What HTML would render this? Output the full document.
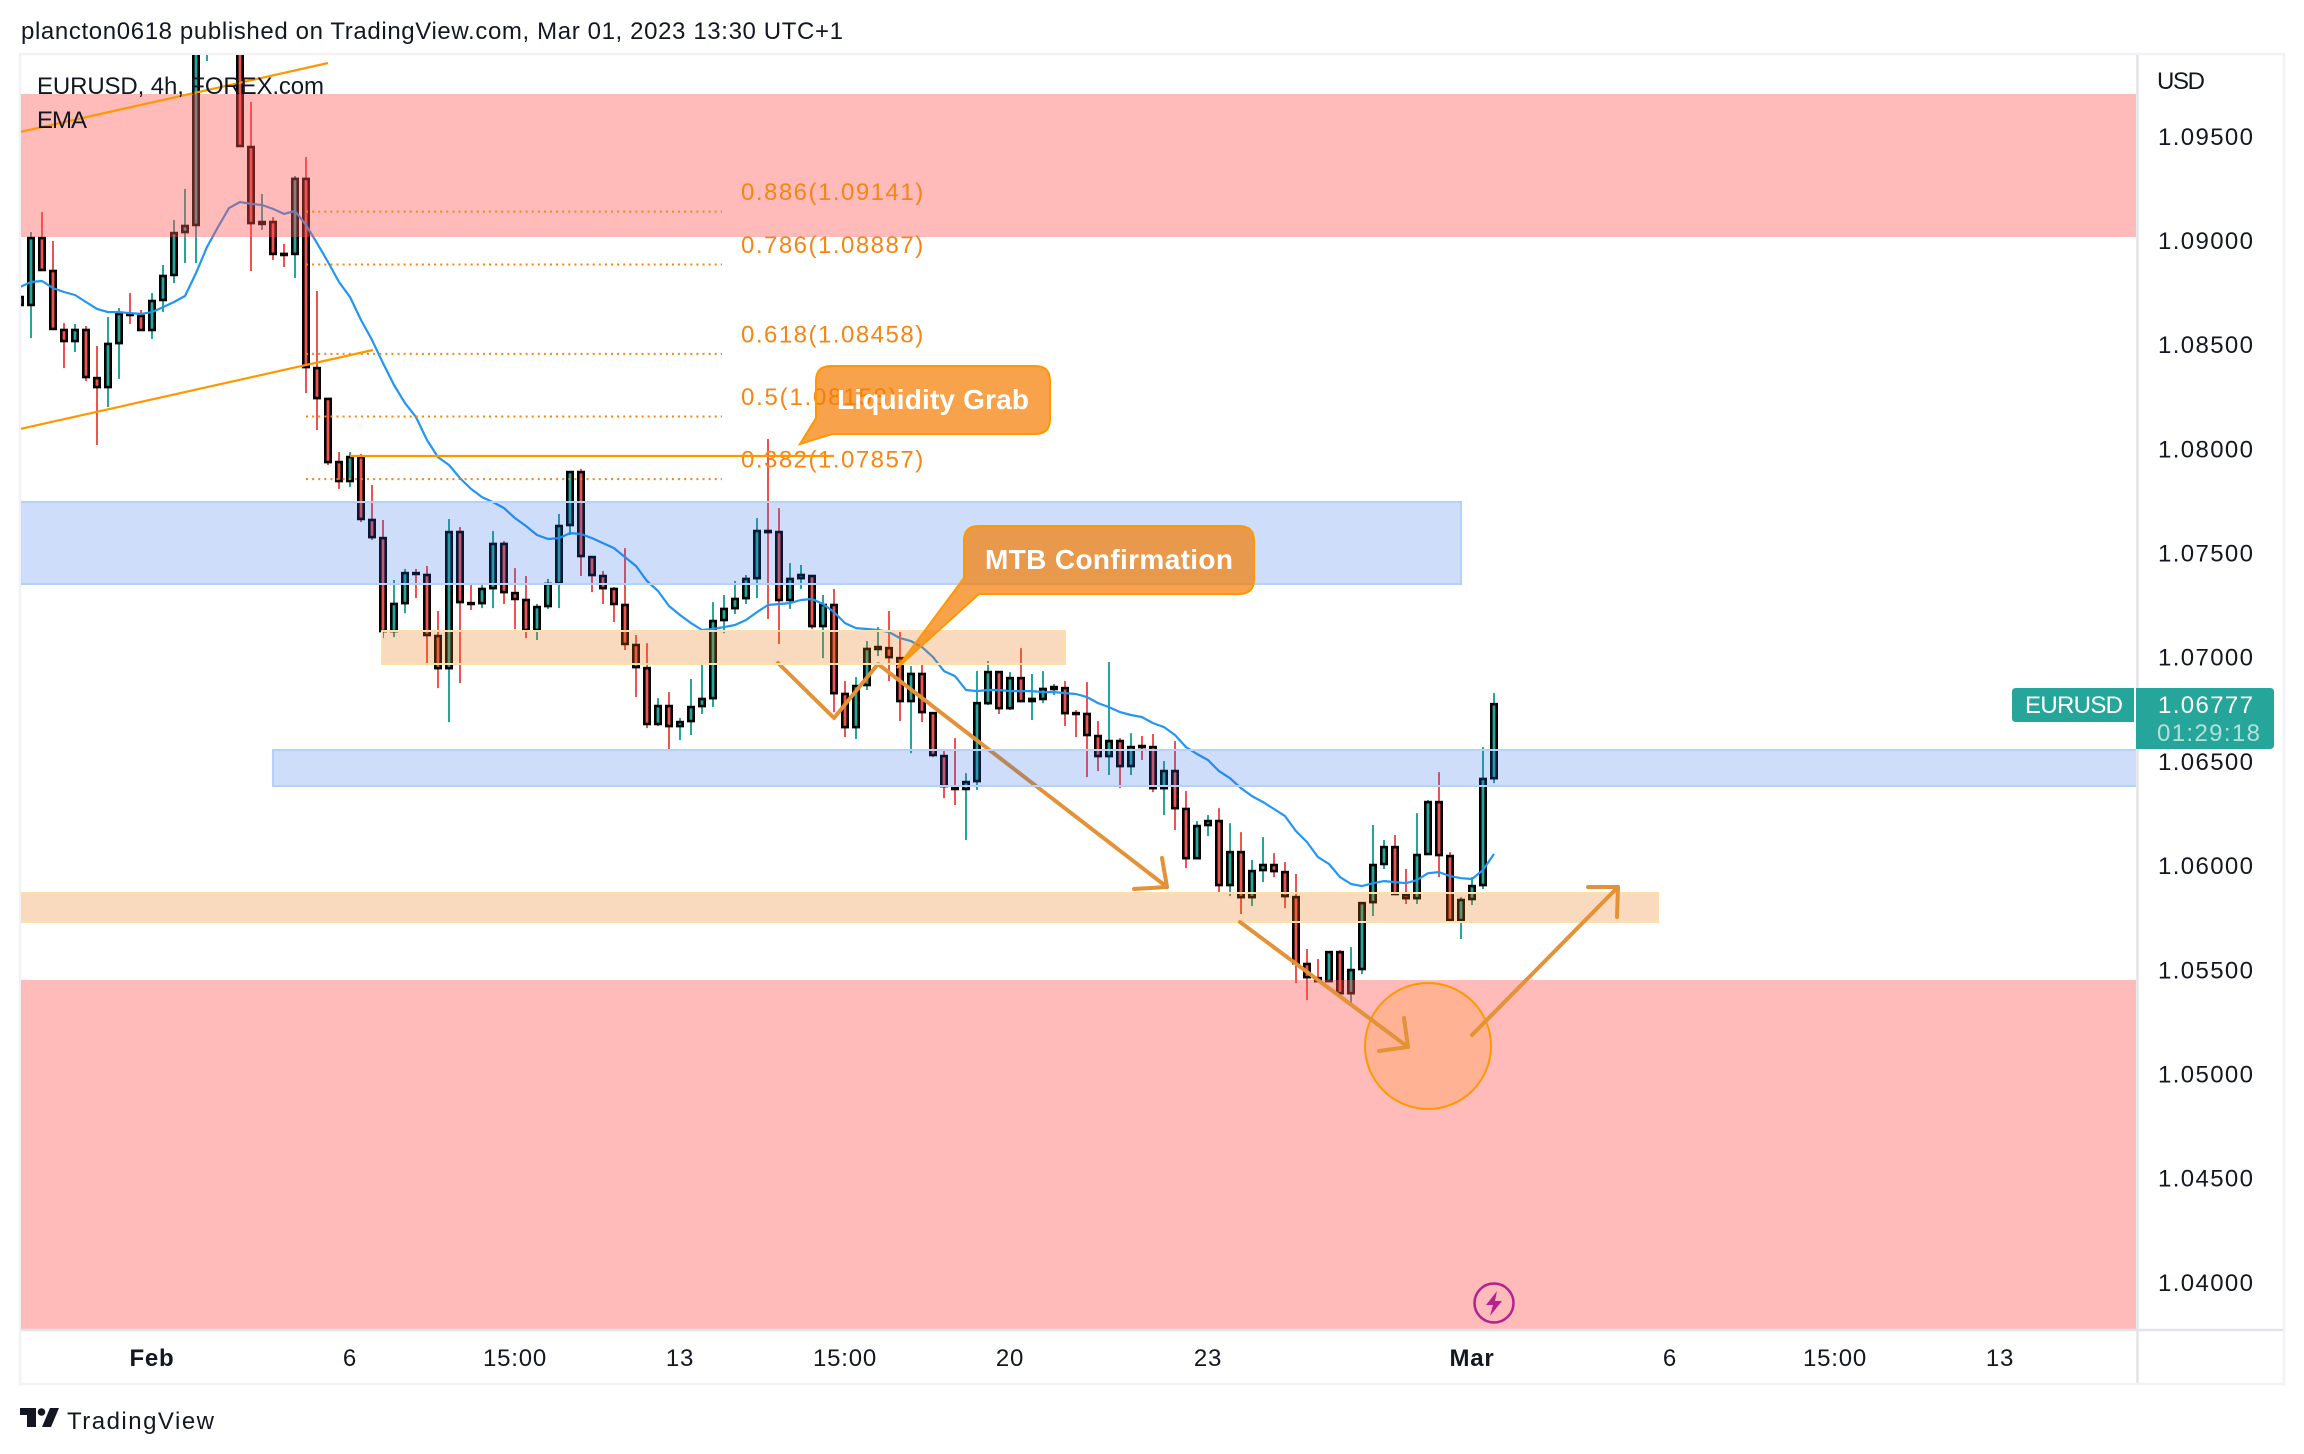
<!DOCTYPE html>
<html lang="en">
<head>
<meta charset="utf-8">
<title>EURUSD 4h chart</title>
<style>
html,body{margin:0;padding:0;background:#fff;width:2304px;height:1454px;overflow:hidden}
svg{display:block}
text{font-family:"Liberation Sans",sans-serif;font-size:24px;fill:#131722}
</style>
</head>
<body>
<svg id="root" width="2304" height="1454" viewBox="0 0 2304 1454">
<defs><clipPath id="plot"><rect x="21" y="55" width="2115" height="1274"/></clipPath></defs>

<text x="21" y="39" textLength="822" lengthAdjust="spacing">plancton0618 published on TradingView.com, Mar 01, 2023 13:30 UTC+1</text>

<rect x="20" y="54" width="2264" height="1330" fill="#fff" stroke="#f1f1f6" stroke-width="2.5"/>

<g clip-path="url(#plot)">
  <g id="candles"></g>
  <polyline id="ema" fill="none" stroke="#2196f3" stroke-width="2.2" stroke-linejoin="round"/>
  <g fill="none" stroke="#e59135" stroke-width="4" stroke-linecap="round" stroke-linejoin="round">
    <polyline points="778,663 834,718 878,664 1167,887"/>
    <polyline points="1162,858 1167,887 1134,889"/>
  </g>
  <rect x="10" y="94" width="2126" height="143" fill="rgba(255,82,82,.4)"/>
  <rect x="10" y="980" width="2126" height="360" fill="rgba(255,82,82,.4)"/>
  <rect x="10" y="502" width="1451" height="82" fill="rgba(33,100,230,.22)" stroke="#b3d1fb" stroke-width="2"/>
  <rect x="273" y="750" width="1880" height="36" fill="rgba(33,100,230,.22)" stroke="#b3d1fb" stroke-width="2"/>
  <rect x="382" y="631" width="683" height="33" fill="rgba(235,120,20,.27)" stroke="#fde0a8" stroke-width="2"/>
  <rect x="10" y="893" width="1648" height="29" fill="rgba(235,120,20,.27)" stroke="#fde0a8" stroke-width="2"/>

  <g id="fib"></g>

  <line x1="20" y1="132" x2="328" y2="63" stroke="#ff9800" stroke-width="2.2"/>
  <line x1="20" y1="429" x2="373" y2="350" stroke="#ff9800" stroke-width="2.2"/>
  <line x1="350" y1="456" x2="834" y2="456" stroke="#ff9800" stroke-width="2.2"/>

  <circle cx="1428" cy="1046" r="63" fill="rgba(255,152,0,.2)" stroke="#ff9800" stroke-width="2"/>
  <g fill="none" stroke="#e59135" stroke-width="4" stroke-linecap="round" stroke-linejoin="round">
    <line x1="1240" y1="922" x2="1408" y2="1047"/>
    <polyline points="1404,1018 1408,1047 1379,1051"/>
  </g>
  <g fill="none" stroke="#e59135" stroke-width="4" stroke-linecap="round" stroke-linejoin="round">
    <line x1="1472" y1="1035" x2="1618" y2="887"/>
    <polyline points="1588,887 1618,887 1617,917"/>
  </g>

  <path d="M831 366H1035Q1050 366 1050 381V419Q1050 434 1035 434H832L800 444L816 418V381Q816 366 831 366Z" fill="rgba(245,124,0,.7)" stroke="#ff9800" stroke-width="2"/>
  <text x="837" y="409" textLength="192" lengthAdjust="spacing" style="font-size:28px;fill:#fff;font-weight:700">Liquidity Grab</text>
  <path d="M979 526H1239Q1254 526 1254 541V579Q1254 594 1239 594H979L897 668L964 578V541Q964 526 979 526Z" fill="rgba(245,124,0,.7)" stroke="#ff9800" stroke-width="2"/>
  <text x="985" y="569" textLength="248" lengthAdjust="spacing" style="font-size:28px;fill:#fff;font-weight:700">MTB Confirmation</text>

  <g>
    <circle cx="1494" cy="1303" r="19.5" fill="none" stroke="#b5218f" stroke-width="2.5"/>
    <path d="M1497 1291L1486 1305H1493L1490 1316L1502 1301H1495Z" fill="#b5218f"/>
  </g>
</g>

<text x="37" y="94" textLength="287" lengthAdjust="spacing">EURUSD, 4h, FOREX.com</text>
<text x="37" y="128" textLength="50" lengthAdjust="spacing">EMA</text>

<line x1="2137.5" y1="55" x2="2137.5" y2="1383" stroke="#e2e3e8" stroke-width="2.5"/>
<line x1="21" y1="1330" x2="2283" y2="1330" stroke="#e2e3e8" stroke-width="2.5"/>

<g id="priceAxis"></g>
<g id="timeAxis"></g>
<text x="2157" y="89" textLength="48" lengthAdjust="spacing">USD</text>

<path d="M2016 688H2134V722H2016Q2012 722 2012 718V692Q2012 688 2016 688Z" fill="#26a69a"/>
<text x="2074" y="713" text-anchor="middle" textLength="98" lengthAdjust="spacing" style="fill:#fff">EURUSD</text>
<path d="M2136 688H2270Q2274 688 2274 692V745Q2274 749 2270 749H2136Z" fill="#26a69a"/>
<text x="2158" y="713" textLength="95" lengthAdjust="spacing" style="fill:#fff">1.06777</text>
<text x="2157" y="741" textLength="103" lengthAdjust="spacing" style="fill:#fff;fill-opacity:.65">01:29:18</text>

<g>
  <path d="M20 1408H36V1427H27V1415H20Z" fill="#131722"/>
  <circle cx="41.5" cy="1412" r="3.8" fill="#131722"/>
  <path d="M50 1408H59L51 1427H42Z" fill="#131722"/>
  <text x="67" y="1429" textLength="147" lengthAdjust="spacing">TradingView</text>
</g>

<script>
const opens=[1.08731,1.08693,1.09014,1.08856,1.08573,1.08520,1.08573,1.08342,1.08299,1.08510,1.08650,1.08640,1.08573,1.08717,1.08837,1.09043,1.09077,1.09941,1.10013,1.10037,1.09965,1.09451,1.09082,1.09091,1.08938,1.08938,1.09298,1.08390,1.08242,1.07939,1.07848,1.07963,1.07661,1.07574,1.07128,1.07262,1.07406,1.07397,1.07104,1.06950,1.07603,1.07262,1.07262,1.07334,1.07546,1.07310,1.07277,1.07133,1.07248,1.07358,1.07637,1.07891,1.07483,1.07392,1.07330,1.07253,1.07061,1.06950,1.06682,1.06768,1.06672,1.06696,1.06768,1.06806,1.07181,1.07238,1.07286,1.07382,1.07608,1.07603,1.07277,1.07382,1.07392,1.07152,1.07253,1.06826,1.06667,1.06869,1.07042,1.07046,1.06998,1.06792,1.06922,1.06734,1.06528,1.06379,1.06370,1.06408,1.06782,1.06931,1.06758,1.06902,1.06792,1.06802,1.06850,1.06854,1.06734,1.06730,1.06624,1.06528,1.06600,1.06480,1.06576,1.06571,1.06374,1.06456,1.06274,1.06038,1.06197,1.06216,1.05909,1.06067,1.05851,1.05981,1.06005,1.05971,1.05851,1.05530,1.05462,1.05448,1.05587,1.05390,1.05506,1.05827,1.06010,1.06091,1.05861,1.05846,1.06058,1.06307,1.06048,1.05741,1.05842,1.05909,1.06422];
const highs=[1.08794,1.09043,1.09139,1.09000,1.08606,1.08602,1.08592,1.08496,1.08635,1.08678,1.08750,1.08669,1.08750,1.08885,1.09101,1.09250,1.09965,1.10109,1.10133,1.10085,1.10013,1.09667,1.09226,1.09115,1.08986,1.09312,1.09403,1.08760,1.08242,1.07987,1.07987,1.07978,1.07829,1.07661,1.07373,1.07426,1.07426,1.07440,1.07224,1.07666,1.07627,1.07349,1.07349,1.07608,1.07560,1.07430,1.07392,1.07258,1.07378,1.07690,1.07891,1.07906,1.07483,1.07416,1.07339,1.07526,1.07109,1.07070,1.06806,1.06835,1.06710,1.06898,1.06965,1.07267,1.07301,1.07368,1.07397,1.07670,1.08050,1.07718,1.07454,1.07445,1.07392,1.07301,1.07330,1.06888,1.06907,1.07080,1.07147,1.07224,1.07128,1.06960,1.06974,1.06734,1.06552,1.06614,1.06446,1.06936,1.06984,1.06931,1.06931,1.07046,1.06922,1.06936,1.06874,1.06888,1.06749,1.06883,1.06696,1.06979,1.06614,1.06638,1.06624,1.06634,1.06504,1.06600,1.06360,1.06216,1.06245,1.06278,1.06206,1.06163,1.06029,1.06139,1.06062,1.06019,1.05962,1.05602,1.05554,1.05587,1.05597,1.05611,1.05827,1.06197,1.06125,1.06149,1.05986,1.06254,1.06317,1.06451,1.06067,1.05851,1.05947,1.06571,1.06830];
const lows=[1.08645,1.08534,1.08861,1.08578,1.08390,1.08467,1.08328,1.08021,1.08203,1.08338,1.08602,1.08573,1.08530,1.08659,1.08798,1.08894,1.08894,1.09864,1.09965,1.09893,1.09451,1.08856,1.09053,1.08909,1.08875,1.08822,1.08270,1.08093,1.07925,1.07810,1.07819,1.07651,1.07565,1.07094,1.07099,1.07214,1.07286,1.06974,1.06854,1.06691,1.06878,1.07229,1.07238,1.07238,1.07258,1.07138,1.07094,1.07085,1.07234,1.07238,1.07589,1.07392,1.07315,1.07258,1.07171,1.07037,1.06811,1.06662,1.06672,1.06552,1.06605,1.06629,1.06730,1.06763,1.07118,1.07210,1.07258,1.07286,1.07186,1.07066,1.07234,1.07330,1.07138,1.06998,1.06739,1.06619,1.06610,1.06845,1.07008,1.06888,1.06696,1.06542,1.06691,1.06523,1.06326,1.06293,1.06125,1.06365,1.06773,1.06730,1.06749,1.06787,1.06701,1.06782,1.06821,1.06672,1.06619,1.06427,1.06456,1.06437,1.06374,1.06437,1.06509,1.06355,1.06245,1.06173,1.05990,1.06034,1.06144,1.05870,1.05856,1.05770,1.05808,1.05923,1.05947,1.05798,1.05438,1.05357,1.05448,1.05443,1.05390,1.05342,1.05482,1.05760,1.05986,1.05866,1.05818,1.05818,1.06058,1.05947,1.05741,1.05650,1.05813,1.05890,1.06398];
const closes=[1.08693,1.09014,1.08861,1.08578,1.08520,1.08573,1.08347,1.08299,1.08506,1.08650,1.08645,1.08573,1.08712,1.08832,1.09038,1.09072,1.09965,1.10061,1.10109,1.09965,1.09456,1.09086,1.09091,1.08938,1.08933,1.09298,1.08395,1.08246,1.07939,1.07848,1.07963,1.07666,1.07579,1.07128,1.07258,1.07406,1.07402,1.07109,1.06950,1.07603,1.07267,1.07258,1.07330,1.07546,1.07315,1.07282,1.07133,1.07243,1.07354,1.07632,1.07891,1.07488,1.07397,1.07334,1.07258,1.07066,1.06955,1.06682,1.06768,1.06672,1.06691,1.06763,1.06802,1.07176,1.07234,1.07282,1.07378,1.07608,1.07603,1.07277,1.07378,1.07397,1.07152,1.07253,1.06830,1.06667,1.06864,1.07042,1.07051,1.07003,1.06792,1.06922,1.06739,1.06533,1.06384,1.06370,1.06403,1.06782,1.06931,1.06758,1.06902,1.06792,1.06802,1.06850,1.06859,1.06734,1.06730,1.06629,1.06528,1.06600,1.06480,1.06571,1.06571,1.06374,1.06456,1.06278,1.06038,1.06192,1.06216,1.05909,1.06067,1.05851,1.05976,1.06005,1.05976,1.05856,1.05534,1.05467,1.05448,1.05587,1.05390,1.05501,1.05822,1.06005,1.06091,1.05866,1.05846,1.06053,1.06307,1.06053,1.05741,1.05837,1.05904,1.06418,1.06777];
const emaValues=[1.08779,1.08803,1.08808,1.08774,1.08755,1.08741,1.08707,1.08674,1.08659,1.08659,1.08654,1.08650,1.08659,1.08683,1.08707,1.08736,1.08846,1.08971,1.09067,1.09158,1.09187,1.09178,1.09173,1.09154,1.09130,1.09144,1.09077,1.08990,1.08899,1.08803,1.08731,1.08621,1.08525,1.08414,1.08309,1.08222,1.08155,1.08045,1.07963,1.07925,1.07862,1.07810,1.07771,1.07747,1.07718,1.07670,1.07632,1.07589,1.07570,1.07574,1.07598,1.07594,1.07574,1.07550,1.07526,1.07483,1.07440,1.07368,1.07320,1.07248,1.07205,1.07166,1.07133,1.07138,1.07147,1.07157,1.07181,1.07219,1.07253,1.07258,1.07262,1.07277,1.07282,1.07258,1.07219,1.07166,1.07142,1.07138,1.07133,1.07123,1.07094,1.07080,1.07051,1.07003,1.06936,1.06912,1.06845,1.06840,1.06845,1.06845,1.06840,1.06840,1.06840,1.06835,1.06835,1.06830,1.06826,1.06811,1.06782,1.06763,1.06739,1.06725,1.06715,1.06686,1.06667,1.06629,1.06571,1.06538,1.06509,1.06456,1.06422,1.06374,1.06336,1.06307,1.06274,1.06240,1.06168,1.06115,1.06043,1.06010,1.05947,1.05914,1.05904,1.05918,1.05928,1.05923,1.05918,1.05933,1.05966,1.05971,1.05952,1.05942,1.05938,1.05981,1.06058];
const priceTicks=[1.095,1.09,1.085,1.08,1.075,1.07,1.065,1.06,1.055,1.05,1.045,1.04];
const priceTickLabels=["1.09500","1.09000","1.08500","1.08000","1.07500","1.07000","1.06500","1.06000","1.05500","1.05000","1.04500","1.04000"];
const timeTickBars=[12,30,45,60,75,90,108,132,150,165,180];
const timeTickLabels=["Feb","6","15:00","13","15:00","20","23","Mar","6","15:00","13"];
const timeTickBold=["Feb","Mar"];
const fibPrices=[1.09141,1.08887,1.08458,1.08158,1.07857];
const fibRatios=["0.886","0.786","0.618","0.5","0.382"];

const NS='http://www.w3.org/2000/svg';
function priceY(p){return 241+(1.09-p)*20836;}
function barX(i){return 20+11*i;}
function make(tag,attrs,parent){
  const el=document.createElementNS(NS,tag);
  for(const k in attrs){el.setAttribute(k,attrs[k]);}
  parent.appendChild(el);
  return el;
}

const candleLayer=document.getElementById('candles');
opens.forEach(function(o,i){
  const c=closes[i];
  const up=c>=o;
  const col=up?'#26a69a':'#ef5350';
  const x=barX(i);
  const wick=make('line',{x1:x,x2:x,y1:priceY(highs[i]),y2:priceY(lows[i]),stroke:col,'stroke-width':2},candleLayer);
  
  
  const top=priceY(Math.max(o,c));
  const h=Math.abs(priceY(o)-priceY(c));
  const body=make('rect',{x:x-2.7,y:top,width:5.4,height:h,fill:col,stroke:'#000','stroke-width':2.6},candleLayer);
  
  
});

document.getElementById('ema').setAttribute('points',emaValues.map(function(v,i){return barX(i)+','+priceY(v).toFixed(1);}).join(' '));

const fibLayer=document.getElementById('fib');
fibPrices.forEach(function(p,i){
  const y=priceY(p);
  const ln=make('line',{x1:306,x2:722,y1:y,y2:y,stroke:'#f68512','stroke-width':2,'stroke-dasharray':'2 4.1'},fibLayer);
  
  
  const t=make('text',{x:741,y:y-11.5,textLength:(fibRatios[i].length+9)*13.3-4,lengthAdjust:'spacing',style:'fill:#f68512'},fibLayer);
  
  
  t.textContent=fibRatios[i]+'('+p.toFixed(5)+')';
});

const priceAxis=document.getElementById('priceAxis');
priceTicks.forEach(function(p,i){
  const t=make('text',{x:2158,y:priceY(p)+8,textLength:95,lengthAdjust:'spacing'},priceAxis);
  
  
  t.textContent=priceTickLabels[i];
});

const timeAxis=document.getElementById('timeAxis');
timeTickBars.forEach(function(b,i){
  const label=timeTickLabels[i];
  const t=make('text',{x:barX(b),y:1366,'text-anchor':'middle',style:'letter-spacing:.8px'},timeAxis);
  if(timeTickBold.indexOf(label)>=0){t.setAttribute('style','font-weight:700;letter-spacing:.8px');}
  
  
  t.textContent=label;
});
</script>
</svg>
</body>
</html>
